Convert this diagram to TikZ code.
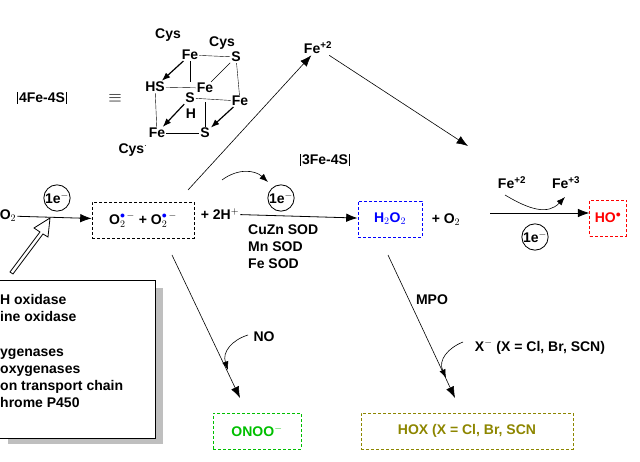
\documentclass[tikz,border=0pt]{standalone}
\usepackage{fontspec}
\setmainfont{Liberation Sans}
\usetikzlibrary{arrows.meta,positioning}

\begin{document}
\begin{tikzpicture}[
    x=1pt, y=-1pt,
    every node/.style={font=\bfseries\fontsize{14}{17}\selectfont, inner sep=1pt},
    spec/.style={draw, densely dashed, thick, minimum height=36pt, inner sep=5pt},
    elec/.style={draw, circle, thick, minimum size=24pt, inner sep=0pt},
    rxn/.style={-{Latex[length=4mm]}, thick},
    side/.style={-{Latex[length=3mm]}, semithick},
    >={Latex[length=3mm]}
  ]
    \useasboundingbox (0,0) rectangle (640,462);
    \clip (0,0) rectangle (640,462);

    % 4Fe-4S cluster
    \node (fs4) at (42,98) {4Fe-4S};
    \draw[thick] (fs4.north west) -- (fs4.south west);
    \draw[thick] (fs4.north east) -- (fs4.south east);
    \node (eqv) at (115,98) {\LARGE$\equiv$};
    \node (cysA) at (168,35) {Cys};
    \node (cysB) at (222,43) {Cys};
    \node (feA) at (190,55) {Fe};
    \node (sA) at (236,57) {S};
    \node (hs) at (155,87) {HS};
    \node (feB) at (205,88) {Fe};
    \node (sB) at (190,98) {S};
    \node (feC) at (240,101) {Fe};
    \node (hB) at (191,114) {H};
    \node (feD) at (157,133) {Fe};
    \node (sD) at (205,133) {S};
    \node (cysC) at (133,150) {Cys$^{\cdot}$};
    \draw (feA) -- (sA);
    \draw (sA) -- (feC);
    \draw (feA) -- (190,82);
    \draw (hs) -- (feB);
    \draw (hs) -- (feD);
    \draw (feD) -- (sD);
    \draw (sD) -- (205,102);
    \draw (sB) -- (feC);
    \draw (sA) -- (feB);
    \draw[very thick, ->] (feA) -- (hs);
    \draw[very thick, ->] (sB) -- (feD);
    \draw[very thick, ->] (feC) -- (sD);

    % main row
    \node (o2) at (8,216) {O$_2$};
    \node[spec, minimum width=102pt] (sup) at (143,220) {O$_2^{\textcolor{blue}{\bullet}\,-}$ + O$_2^{\textcolor{blue}{\bullet}\,-}$};
    \node (hplus) at (220,214) {+ 2H$^+$};
    \node[spec, blue, minimum width=64pt] (h2o2) at (390,219) {H$_2$O$_2$};
    \node (plo2) at (446,220) {+ O$_2$};
    \node[spec, red, minimum width=36pt] (ho) at (608,218) {HO$^{\bullet}$};

    \draw[rxn] (o2) -- (sup);
    \node[elec] (e1) at (57,198) {1e$^-$};
    \draw[rxn] (hplus) -- (h2o2);
    \node[elec] (e2) at (281,198) {1e$^-$};
    \node[align=left, anchor=north west] (sod) at (247,224) {CuZn SOD\\Mn SOD\\Fe SOD};
    \coordinate (fa) at (490,213);
    \draw[rxn] (fa) -- (ho.west |- fa);
    \node (fe2a) at (512,183) {Fe\textsuperscript{+2}};
    \node (fe3a) at (566,183) {Fe\textsuperscript{+3}};
    \draw[side] (505,195) .. controls (530,210) and (548,215) .. (565,197);
    \node[elec] (e3) at (535,237) {1e$^-$};

    % hollow arrow from box
    \draw[thick, fill=white] (10,272) -- (40,232) -- (34,228) -- (50,218)
      -- (48,237) -- (43,234) -- (13,274) -- cycle;

    % enzyme box
    \fill[gray!50] (8,288) rectangle (163,444);
    \node[draw, thick, fill=white, minimum width=160pt, minimum height=158pt, anchor=north west] (enz) at (-5,280) {};
    \node[align=left, anchor=north west, inner sep=0pt] (enzt) at (0,294)
      {H oxidase\\ine oxidase\\[18pt]ygenases\\oxygenases\\on transport chain\\hrome P450};

    % iron release
    \node (fe2b) at (318,48) {Fe\textsuperscript{+2}};
    \draw[rxn, semithick] (188,190) -- (fe2b);
    \draw[rxn, semithick] (fe2b) -- (468,146);
    \draw[side] (222,180) .. controls (238,168) and (255,170) .. (268,182);
    \node (fs3) at (325,160) {3Fe-4S};
    \draw[thick] (fs3.north west) -- (fs3.south west);
    \draw[thick] (fs3.north east) -- (fs3.south east);

    % peroxynitrite
    \node[spec, green!75!black, minimum width=88pt] (onoo) at (257,431) {ONOO$^-$};
    \draw[rxn, semithick] (172,255) -- (240,398);
    \node (no) at (264,337) {NO};
    \draw[side] (248,335) .. controls (232,340) and (222,352) .. (228,370);

    % hypohalous acids
    \node[spec, olive, minimum width=212pt] (hox) at (467,431) {HOX (X = Cl, Br, SCN};
    \draw[rxn, semithick] (388,255) -- (455,398);
    \node (mpo) at (432,300) {MPO};
    \node (xm) at (540,347) {X$^{-}$ (X = Cl, Br, SCN)};
    \draw[side] (463,342) .. controls (448,348) and (438,360) .. (446,378);
  \end{tikzpicture}
\end{document}
